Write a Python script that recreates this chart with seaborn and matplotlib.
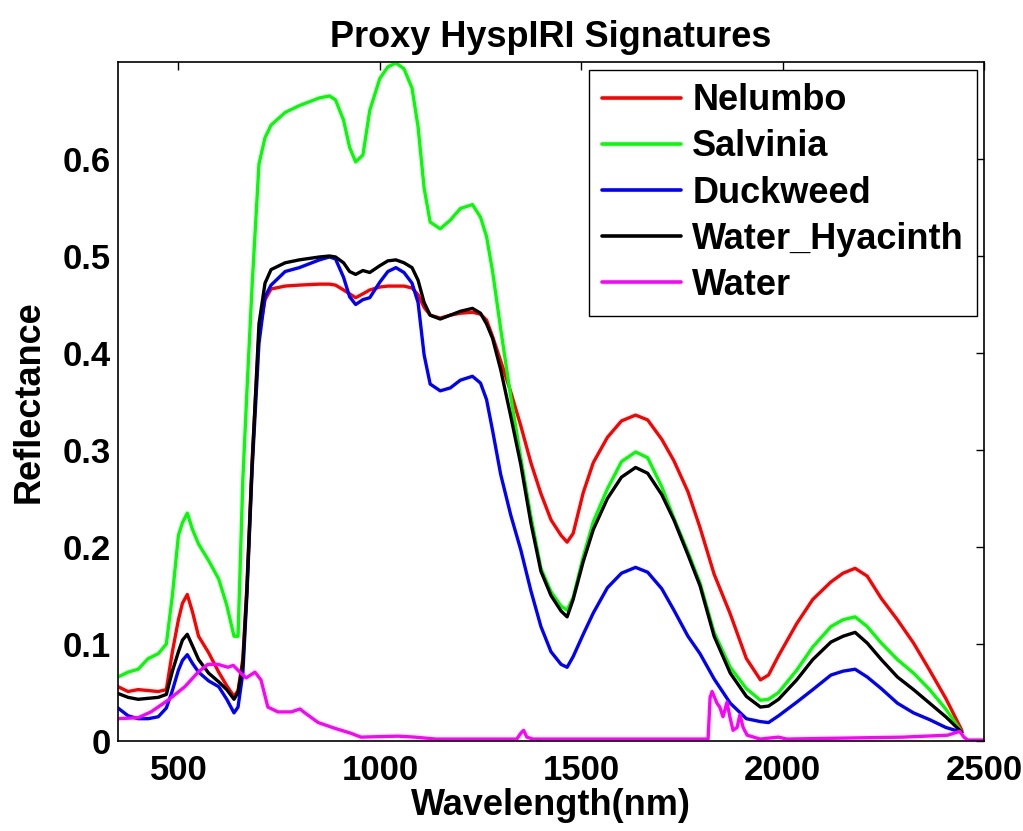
import numpy as np
import pandas as pd
import matplotlib
matplotlib.use("Agg")
import matplotlib.pyplot as plt
import seaborn as sns

# ---------------- data ----------------
veg_wl = [350, 375, 400, 425, 450, 470, 485, 500, 510, 522,
          535, 550, 575, 600, 620, 638, 648, 660, 670, 683,
          700, 715, 730, 765, 800, 850, 875, 890, 910, 925,
          940, 958, 975, 1000, 1020, 1040, 1060, 1080, 1095, 1110,
          1125, 1150, 1175, 1200, 1230, 1250, 1265, 1280, 1300, 1325,
          1350, 1375, 1400, 1425, 1450, 1465, 1480, 1505, 1530, 1565,
          1600, 1635, 1665, 1700, 1730, 1765, 1795, 1830, 1870, 1910,
          1945, 1965, 1990, 2035, 2075, 2120, 2150, 2180, 2210, 2245,
          2285, 2325, 2365, 2405, 2445]

nelumbo = [.056, .051, .053, .052, .051, .053, .092, .125, .142, .151,
           .133, .108, .091, .071, .057, .046, .052, .085, .160, .290,
           .420, .455, .466, .469, .470, .471, .471, .470, .465, .461,
           .457, .461, .465, .468, .469, .469, .469, .467, .460, .447,
           .439, .436, .439, .441, .442, .440, .434, .417, .392, .360,
           .325, .287, .255, .228, .212, .205, .214, .256, .287, .313,
           .330, .336, .331, .311, .289, .257, .220, .172, .131, .085,
           .063, .068, .088, .121, .146, .164, .173, .178, .170, .147,
           .125, .101, .073, .044, .011]

salvinia = [.066, .071, .074, .085, .090, .100, .150, .212, .225, .235,
            .218, .203, .186, .167, .140, .108, .108, .270, .360, .470,
            .595, .622, .635, .648, .655, .663, .665, .661, .640, .612,
            .597, .604, .650, .683, .695, .699, .693, .673, .633, .570,
            .535, .528, .537, .549, .553, .540, .520, .484, .425, .355,
            .292, .232, .178, .154, .139, .135, .148, .190, .226, .260,
            .288, .298, .292, .262, .230, .195, .163, .112, .076, .054,
            .042, .043, .050, .073, .097, .118, .125, .128, .118, .101,
            .084, .070, .053, .033, .009]

duckweed = [.034, .026, .023, .023, .025, .034, .052, .073, .083, .089,
            .080, .071, .062, .056, .043, .029, .035, .070, .150, .280,
            .410, .458, .470, .484, .488, .496, .499, .497, .478, .458,
            .450, .455, .457, .473, .484, .488, .483, .472, .452, .398,
            .368, .361, .364, .372, .376, .369, .352, .320, .275, .233,
            .197, .155, .118, .092, .079, .076, .087, .110, .132, .158,
            .173, .179, .174, .157, .135, .108, .090, .064, .039, .023,
            .020, .019, .026, .040, .053, .068, .072, .074, .066, .054,
            .039, .029, .022, .014, .009]

hyacinth = [.049, .045, .043, .044, .045, .048, .072, .092, .104, .110,
            .098, .084, .070, .061, .053, .043, .050, .080, .155, .285,
            .430, .472, .486, .493, .496, .499, .500, .499, .493, .484,
            .481, .485, .483, .490, .495, .496, .493, .488, .475, .452,
            .439, .435, .439, .443, .446, .441, .430, .415, .383, .335,
            .285, .225, .175, .150, .134, .128, .146, .185, .218, .250,
            .272, .282, .276, .254, .228, .192, .160, .108, .070, .046,
            .035, .036, .043, .063, .084, .102, .108, .112, .101, .084,
            .066, .053, .039, .025, .009]

water_wl = [350, 400, 432, 474, 516, 549, 573, 598, 623, 636,
            655, 668, 690, 705, 722, 747, 780, 802, 814, 847,
            889, 928, 953, 1045, 1087, 1139, 1340, 1350, 1357, 1365,
            1380, 1815, 1820, 1825, 1837, 1844, 1852, 1862, 1869, 1877,
            1887, 1894, 1902, 1912, 1944, 1990, 2010, 2300, 2410, 2440,
            2450, 2460, 2500]
water = [.023, .024, .030, .042, .056, .071, .079, .079, .076, .078,
         .070, .065, .071, .063, .035, .030, .030, .033, .029, .019,
         .013, .008, .004, .005, .004, .002, .002, .008, .011, .004,
         .002, .002, .045, .051, .039, .035, .025, .040, .025, .011,
         .014, .027, .014, .006, .002, .004, .002, .004, .006, .010,
         .004, .001, .001]

series_names = ["Nelumbo", "Salvinia", "Duckweed", "Water_Hyacinth", "Water"]
series_colors = ["#ff0000", "#00ff00", "#0000ff", "#000000", "#ff00ff"]
x_ticks = [500, 1000, 1500, 2000, 2500]
y_ticks = [0, 0.1, 0.2, 0.3, 0.4, 0.5, 0.6]
y_tick_labels = ["0", "0.1", "0.2", "0.3", "0.4", "0.5", "0.6"]

# ---------------- plot ----------------
sns.set_theme(style="white")
plt.rcParams['font.family'] = ['Liberation Sans', 'DejaVu Sans']
plt.rcParams['font.weight'] = 'bold'
plt.rcParams['text.color'] = 'black'
plt.rcParams['axes.labelcolor'] = 'black'
plt.rcParams['xtick.color'] = 'black'
plt.rcParams['ytick.color'] = 'black'

fig = plt.figure(figsize=(10.23, 8.31), dpi=100)
ax = fig.add_axes([118 / 1023, 1 - 741 / 831, 866 / 1023, 679 / 831])

xs = [veg_wl, veg_wl, veg_wl, veg_wl, water_wl]
ys = [nelumbo, salvinia, duckweed, hyacinth, water]
for name, color, xv, yv in zip(series_names, series_colors, xs, ys):
    df = pd.DataFrame({"wl": xv, "r": yv})
    sns.lineplot(data=df, x="wl", y="r", color=color, linewidth=2.4,
                 label=name, ax=ax, estimator=None)

ax.set_xlim(350, 2500)
ax.set_ylim(0, 0.7)
ax.set_xticks(x_ticks)
ax.set_xticklabels([str(t) for t in x_ticks])
ax.set_yticks(y_ticks)
ax.set_yticklabels(y_tick_labels)
ax.tick_params(direction='in', length=6, width=1, top=True, right=True,
               labelsize=25, colors='black')
ax.tick_params(axis='x', pad=9)
ax.tick_params(axis='y', pad=5)
for s in ax.spines.values():
    s.set_linewidth(1.2)
    s.set_color('black')

ax.set_xlabel('Wavelength(nm)', fontsize=26, fontweight='bold', labelpad=1)
ax.set_ylabel('Reflectance', fontsize=26, fontweight='bold', labelpad=12)
ax.set_title('Proxy HyspIRI Signatures', fontsize=26, fontweight='bold', pad=11)

leg = ax.legend(loc='upper right', bbox_to_anchor=(0.992, 0.988),
                borderaxespad=0, fontsize=26, frameon=True, fancybox=False,
                edgecolor='black', framealpha=1, handlelength=2.2,
                handletextpad=0.3, labelspacing=0.31, borderpad=0.36)
leg.get_frame().set_linewidth(1.0)
for line in leg.get_lines():
    line.set_linewidth(2.6)

fig.savefig('out.png', dpi=100)
